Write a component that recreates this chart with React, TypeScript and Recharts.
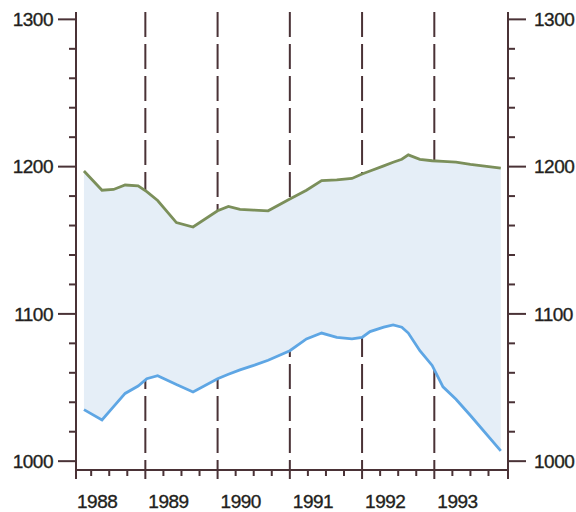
import React from "react";
import {
  Area,
  CartesianGrid,
  ComposedChart,
  Line,
  XAxis,
  YAxis,
} from "recharts";

// positions along the time axis (fractional years) where both curves were read
const years = [
  1988.15, 1988.4, 1988.56, 1988.72, 1988.9, 1989.02, 1989.17, 1989.43,
  1989.66, 1990.0, 1990.15, 1990.31, 1990.5, 1990.7, 1991.0, 1991.23,
  1991.44, 1991.65, 1991.86, 1992.0, 1992.11, 1992.3, 1992.43, 1992.55,
  1992.64, 1992.8, 1992.97, 1993.12, 1993.3, 1993.5, 1993.92,
];

// green upper curve
const upper = [
  1197, 1184, 1184.5, 1187.5, 1187, 1183, 1177, 1162, 1159, 1170, 1173, 1171,
  1170.5, 1170, 1178, 1184, 1190.5, 1191, 1192, 1195, 1197, 1200.5, 1203,
  1205, 1208, 1205, 1204, 1203.5, 1203, 1201.5, 1199,
];

// blue lower curve
const lower = [
  1035, 1028, 1037, 1046, 1051, 1056, 1058, 1052, 1047, 1056, 1059, 1062,
  1065, 1068.5, 1075, 1083, 1087, 1084, 1083, 1084, 1088, 1091, 1092.5, 1091,
  1087, 1075, 1065, 1050.5, 1042, 1031, 1007,
];

const yearLabels = ["1988", "1989", "1990", "1991", "1992", "1993"];
const yearLines = [1989, 1990, 1991, 1992, 1993];
const xDomain = [1988.04, 1994.02];
const xTicks = [
  1988.04, 1988.25, 1988.5, 1988.75, 1989, 1989.25, 1989.5, 1989.75, 1990,
  1990.25, 1990.5, 1990.75, 1991, 1991.25, 1991.5, 1991.75, 1992, 1992.25,
  1992.5, 1992.75, 1993, 1993.25, 1993.5, 1993.75, 1994.02,
];
const yTicks = [
  1000, 1020, 1040, 1060, 1080, 1100, 1120, 1140, 1160, 1180, 1200, 1220,
  1240, 1260, 1280, 1300,
];
const yLabels = [1000, 1100, 1200, 1300];

const data = years.map((year, i) => ({
  year,
  upper: upper[i],
  lower: lower[i],
  band: [lower[i], upper[i]],
}));

const AXIS = "#4a3236";
const TEXT = "#231f20";
const FONT = "'Liberation Sans', Arial, sans-serif";

const labelStyle = {
  fontFamily: FONT,
  fontSize: 19,
  letterSpacing: -0.5,
  fill: TEXT,
  stroke: TEXT,
  strokeWidth: 0.35,
};

function YTick(props: any) {
  const { x, y, payload, side } = props;
  const v = payload.value;
  const major = yLabels.includes(v);
  const len = major ? 18 : 7;
  const dir = side === "left" ? -1 : 1;
  return (
    <g>
      <line x1={x} x2={x + dir * len} y1={y} y2={y} stroke={AXIS} strokeWidth={2} />
      {major && (
        <text
          x={side === "left" ? x - 23 : x + 26}
          y={y}
          dy="0.36em"
          textAnchor={side === "left" ? "end" : "start"}
          style={labelStyle}
        >
          {v}
        </text>
      )}
    </g>
  );
}

function XTick(props: any) {
  const { x, y, payload } = props;
  const v = payload.value;
  const isStart = v === xDomain[0];
  const isEnd = v === xDomain[1];
  const major = Number.isInteger(v) || isStart || isEnd;
  const idx = isStart ? 0 : Number.isInteger(v) ? v - 1988 : -1;
  return (
    <g>
      <line x1={x} x2={x} y1={y} y2={y + (major ? 9 : 6)} stroke={AXIS} strokeWidth={2} />
      {idx >= 0 && idx < yearLabels.length && (
        <text x={x + (isStart ? 1 : 3)} y={y + 38} textAnchor="start" style={labelStyle}>
          {yearLabels[idx]}
        </text>
      )}
    </g>
  );
}

export default function App() {
  return (
    <div style={{ position: "absolute", left: 0, top: 0, background: "#fff" }}>
      <ComposedChart
        width={576}
        height={512}
        data={data}
        margin={{ top: 12, right: 0, bottom: 0, left: 0 }}
      >
        <XAxis
          xAxisId="lines"
          dataKey="year"
          type="number"
          domain={xDomain}
          ticks={yearLines}
          hide
        />
        <CartesianGrid
          xAxisId="lines"
          yAxisId="left"
          horizontal={false}
          stroke={AXIS}
          strokeWidth={2}
          strokeDasharray="25 7"
        />
        <XAxis
          dataKey="year"
          type="number"
          domain={xDomain}
          ticks={xTicks}
          interval={0}
          height={42}
          axisLine={{ stroke: AXIS, strokeWidth: 2 }}
          tickLine={false}
          tickSize={0}
          tickMargin={0}
          tick={<XTick />}
        />
        <YAxis
          yAxisId="left"
          type="number"
          domain={[994, 1305]}
          ticks={yTicks}
          interval={0}
          width={76}
          axisLine={{ stroke: AXIS, strokeWidth: 2 }}
          tickLine={false}
          tickSize={0}
          tickMargin={0}
          tick={<YTick side="left" />}
        />
        <YAxis
          yAxisId="right"
          orientation="right"
          type="number"
          domain={[994, 1305]}
          ticks={yTicks}
          interval={0}
          width={68}
          axisLine={{ stroke: AXIS, strokeWidth: 2 }}
          tickLine={false}
          tickSize={0}
          tickMargin={0}
          tick={<YTick side="right" />}
        />
        <Area
          yAxisId="left"
          type="linear"
          dataKey="band"
          fill="#e5eef7"
          fillOpacity={1}
          stroke="none"
          isAnimationActive={false}
          activeDot={false}
        />
        <Line
          yAxisId="right"
          type="linear"
          dataKey="upper"
          stroke="#7b8f5a"
          strokeWidth={2.8}
          dot={false}
          activeDot={false}
          isAnimationActive={false}
        />
        <Line
          yAxisId="left"
          type="linear"
          dataKey="lower"
          stroke="#5ea6e4"
          strokeWidth={2.8}
          dot={false}
          activeDot={false}
          isAnimationActive={false}
        />
      </ComposedChart>
    </div>
  );
}
